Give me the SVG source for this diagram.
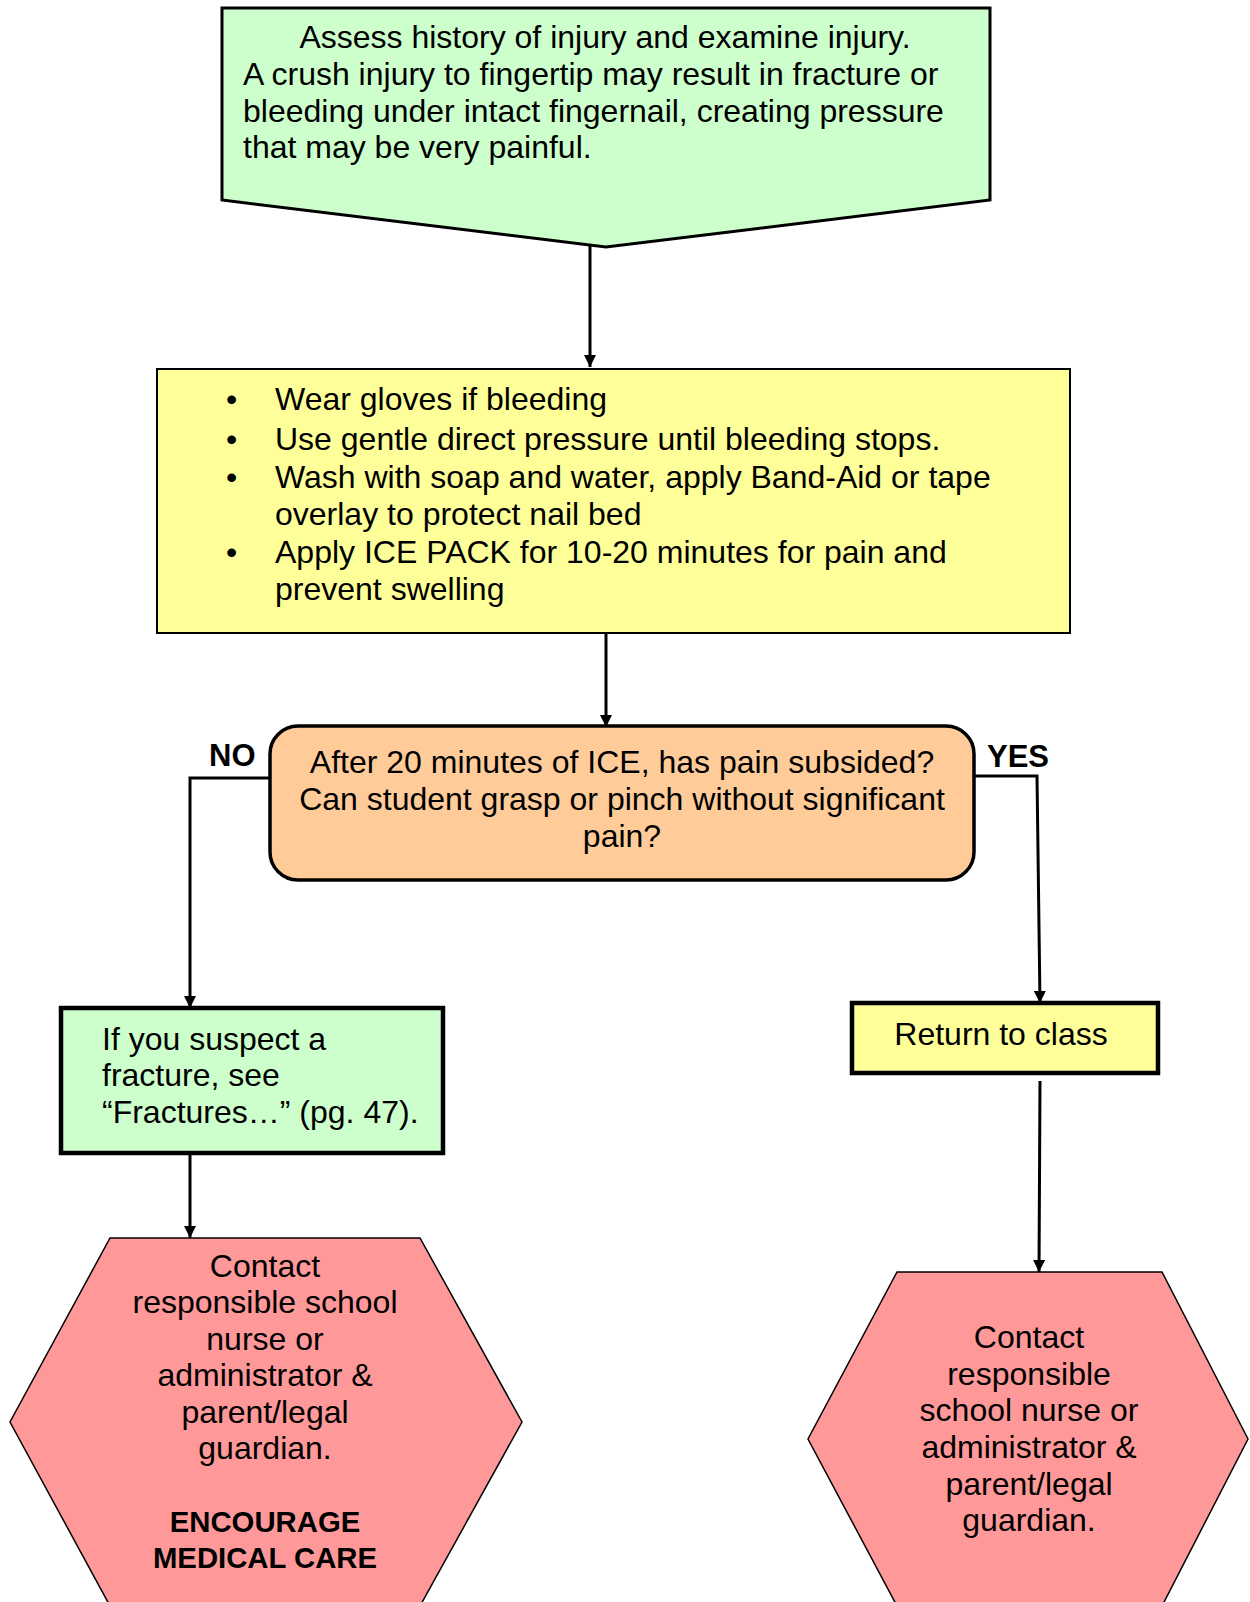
<svg xmlns="http://www.w3.org/2000/svg" width="1250" height="1602" viewBox="0 0 1250 1602">
<defs>
<style>
text{font-family:"Liberation Sans",Arial,sans-serif;font-size:32px;fill:#000}
.c{text-anchor:middle}
.b{font-weight:bold;font-size:29.3px}
.lbl{font-weight:bold;font-size:31px}
.conn line,.conn polyline{stroke:#000;stroke-width:3;fill:none}
</style>
<marker id="ah" viewBox="0 0 10 10" refX="10" refY="5" markerWidth="12" markerHeight="12" markerUnits="userSpaceOnUse" orient="auto">
<path d="M0,0 L10,5 L0,10 z" fill="#000"/>
</marker>
</defs>
<rect width="1250" height="1602" fill="#fff"/>

<g id="n-assess">
<polygon points="222,8 990,8 990,200 606,247 222,200" fill="#CCFFCC" stroke="#000" stroke-width="3"/>
<text class="c" x="605" y="48">Assess history of injury and examine injury.</text>
<text x="243" y="85">A crush injury to fingertip may result in fracture or</text>
<text x="243" y="122">bleeding under intact fingernail, creating pressure</text>
<text x="243" y="158">that may be very painful.</text>
</g>

<g id="n-firstaid">
<rect x="157" y="369" width="913" height="264" fill="#FFFF99" stroke="#000" stroke-width="2"/>
<text x="226" y="410">•</text><text x="275" y="410">Wear gloves if bleeding</text>
<text x="226" y="450">•</text><text x="275" y="450">Use gentle direct pressure until bleeding stops.</text>
<text x="226" y="488">•</text><text x="275" y="488">Wash with soap and water, apply Band-Aid or tape</text>
<text x="275" y="525">overlay to protect nail bed</text>
<text x="226" y="563">•</text><text x="275" y="563">Apply ICE PACK for 10-20 minutes for pain and</text>
<text x="275" y="600">prevent swelling</text>
</g>

<g id="n-decision">
<rect x="270" y="726" width="704" height="154" rx="28" ry="28" fill="#FFCC99" stroke="#000" stroke-width="3.5"/>
<text class="c" x="622" y="773">After 20 minutes of ICE, has pain subsided?</text>
<text class="c" x="622" y="810">Can student grasp or pinch without significant</text>
<text class="c" x="622" y="847">pain?</text>
</g>

<g id="n-fracture">
<rect x="61" y="1008" width="382" height="145" fill="#CCFFCC" stroke="#000" stroke-width="4.5"/>
<text x="102" y="1050">If you suspect a</text>
<text x="102" y="1086">fracture, see</text>
<text x="102" y="1123">“Fractures…” (pg. 47).</text>
</g>

<g id="n-return">
<rect x="852" y="1003" width="306" height="70" fill="#FFFF99" stroke="#000" stroke-width="4.5"/>
<text class="c" x="1001" y="1045">Return to class</text>
</g>

<g id="n-contact-left">
<polygon points="110,1238 420,1238 522,1422 420,1606 110,1606 10,1422" fill="#FF9999" stroke="#000" stroke-width="1.5"/>
<text class="c" x="265" y="1277">Contact</text>
<text class="c" x="265" y="1313">responsible school</text>
<text class="c" x="265" y="1350">nurse or</text>
<text class="c" x="265" y="1386">administrator &amp;</text>
<text class="c" x="265" y="1423">parent/legal</text>
<text class="c" x="265" y="1459">guardian.</text>
<text class="c b" x="265" y="1532">ENCOURAGE</text>
<text class="c b" x="265" y="1568">MEDICAL CARE</text>
</g>

<g id="n-contact-right">
<polygon points="897,1272 1162,1272 1248,1439 1162,1606 897,1606 808,1439" fill="#FF9999" stroke="#000" stroke-width="1.5"/>
<text class="c" x="1029" y="1348">Contact</text>
<text class="c" x="1029" y="1385">responsible</text>
<text class="c" x="1029" y="1421">school nurse or</text>
<text class="c" x="1029" y="1458">administrator &amp;</text>
<text class="c" x="1029" y="1495">parent/legal</text>
<text class="c" x="1029" y="1531">guardian.</text>
</g>

<g id="connectors" class="conn">
<line x1="590" y1="246" x2="590" y2="367" marker-end="url(#ah)"/>
<line x1="606" y1="633" x2="606" y2="727" marker-end="url(#ah)"/>
<polyline points="270,778 190,778 190,1008" marker-end="url(#ah)"/>
<polyline points="974,776 1037,776 1040,1003" marker-end="url(#ah)"/>
<line x1="190" y1="1153" x2="190" y2="1238" marker-end="url(#ah)"/>
<line x1="1040" y1="1081" x2="1039" y2="1272" marker-end="url(#ah)"/>
<text class="lbl" x="209" y="766">NO</text>
<text class="lbl" x="987" y="767">YES</text>
</g>
</svg>
